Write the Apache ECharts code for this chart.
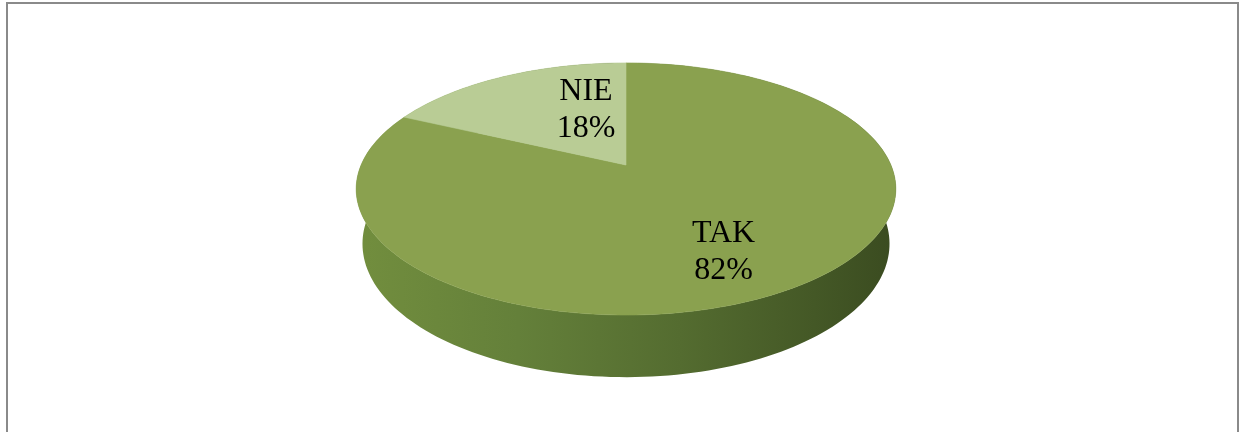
<!DOCTYPE html>
<html>
<head>
<meta charset="utf-8">
<script src="https://cdn.jsdelivr.net/npm/echarts@6/dist/echarts.min.js"></script>
<style>
  html, body { margin: 0; padding: 0; background: #ffffff; }
  #chart { width: 1239px; height: 432px; }
</style>
</head>
<body>
<div id="chart"></div>
<script>
// Answers and their counts (share of respondents, %)
const categories = ['TAK', 'NIE'];
const values = [82, 18];

// Look of each slice
const topColors = ['#8aa14f', '#b9cc95'];

// Camera used to draw the tilted pie: disk of radius 1 seen from above
const view = {
  cx: 626, cy: 165,      // where the disk centre lands on screen
  focal: 1237,           // focal length (px)
  dist: 4.67,            // camera distance (disk radii)
  tilt: 27.3 * Math.PI / 180,
  thickness: 0.2345      // height of the pie (disk radii)
};

// Label anchors on the disk (u to the right, v towards the back)
const labelAnchors = { TAK: [0.3239, -0.6311], NIE: [-0.1653, 0.4962] };

const total = values.reduce((a, b) => a + b, 0);
const starts = [];
values.reduce((acc, v, i) => { starts[i] = acc; return acc + v; }, 0);

function project(u, v, h) {
  const s = Math.sin(view.tilt), c = Math.cos(view.tilt);
  const yc = h * c + v * s;
  const z = view.dist + v * c - h * s;
  return [view.cx + view.focal * u / z, view.cy - view.focal * yc / z];
}

// Points along the rim, angle measured clockwise from the back (12 o'clock)
function rim(a0, a1, h) {
  const n = Math.max(4, Math.ceil((a1 - a0) / (Math.PI * 2) * 240));
  const pts = [];
  for (let k = 0; k <= n; k++) {
    const a = a0 + (a1 - a0) * k / n;
    pts.push(project(Math.sin(a), Math.cos(a), h));
  }
  return pts;
}

const wallGradient = {
  type: 'linear', x: 0, y: 0, x2: 1, y2: 0,
  colorStops: [
    { offset: 0, color: '#728e3e' },
    { offset: 0.3, color: '#64803a' },
    { offset: 0.6, color: '#546c30' },
    { offset: 0.85, color: '#445826' },
    { offset: 1, color: '#3a4b20' }
  ]
};

function renderItem(params, api) {
  const i = params.dataIndex;
  const value = api.value(0);
  const a0 = starts[i] / total * Math.PI * 2;
  const a1 = (starts[i] + value) / total * Math.PI * 2;
  const top = rim(a0, a1, 0);
  const bottom = rim(a0, a1, -view.thickness).reverse();
  const centre = project(0, 0, 0);
  const name = categories[i];
  const anchor = labelAnchors[name];
  const lp = project(anchor[0], anchor[1], 0);
  return {
    type: 'group',
    children: [
      {
        type: 'polygon', z2: 1,
        shape: { points: top.concat(bottom) },
        style: { fill: wallGradient, stroke: null }
      },
      {
        type: 'polygon', z2: 5,
        shape: { points: [centre].concat(top) },
        style: { fill: topColors[i], stroke: topColors[i], lineWidth: 0.6 }
      },
      {
        type: 'text', z2: 10,
        x: lp[0], y: lp[1],
        style: {
          text: name + '\n' + Math.round(value / total * 100) + '%',
          fill: '#000000',
          fontFamily: '"Liberation Serif", "Times New Roman", serif',
          fontSize: 32,
          lineHeight: 37,
          align: 'center',
          verticalAlign: 'middle'
        }
      }
    ]
  };
}

const chart = echarts.init(document.getElementById('chart'), null, { renderer: 'canvas' });
chart.setOption({
  animation: false,
  backgroundColor: '#ffffff',
  graphic: [{
    type: 'rect', z: 100,
    shape: { x: 7, y: 3, width: 1231, height: 500 },
    style: { fill: 'none', stroke: '#8a8a8a', lineWidth: 2 }
  }],
  series: [{
    type: 'custom',
    coordinateSystem: 'none',
    renderItem: renderItem,
    data: values.map((v, i) => ({ name: categories[i], value: [v] }))
  }]
});
</script>
</body>
</html>
